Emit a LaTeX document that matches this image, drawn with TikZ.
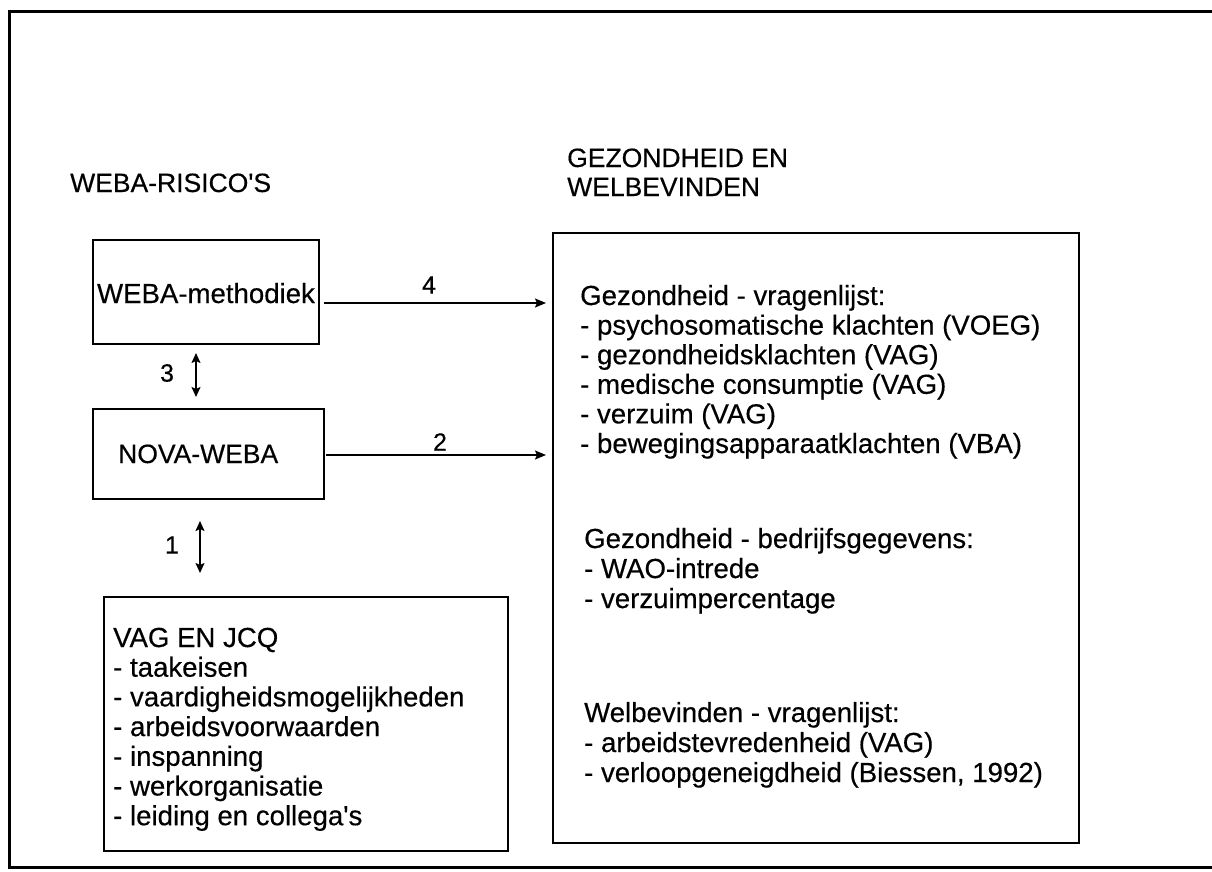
\documentclass[tikz,border=0pt]{standalone}
\usepackage{fontspec}
\setmainfont{Liberation Sans}[FakeBold=0.4]
\usetikzlibrary{arrows.meta}
\begin{document}
\begin{tikzpicture}[x=1pt,y=-1pt,
  box/.style={draw, line width=2pt, rectangle, inner sep=0pt, anchor=north west},
  txt/.style={anchor=base west, inner sep=0pt, font=\fontsize{27.6}{30}\selectfont},
  head/.style={anchor=base west, inner sep=0pt, font=\fontsize{26.5}{30}\selectfont},
  lbl/.style={inner sep=0pt, font=\fontsize{25}{28}\selectfont},
  arr/.style={line width=1.6pt, -{Stealth[length=11pt,width=9pt,inset=2pt]}},
  darr/.style={line width=1.6pt, {Stealth[length=10pt,width=9pt,inset=2pt]}-{Stealth[length=10pt,width=9pt,inset=2pt]}}
]
\useasboundingbox (0,0) rectangle (1212,872);
% outer frame
\draw[line width=3pt] (1214,12) -| (9,867) -- (1214,867);

% headings
\node[head] (h1) at (70,192) {WEBA-RISICO\textquotesingle S};
\node[head] (h2) at (567,167) {GEZONDHEID EN};
\node[head] (h3) at (567,196) {WELBEVINDEN};

% boxes
\node[box, minimum width=226pt, minimum height=104pt] (web) at (92,239) {};
\node[txt, anchor=base] (webt) at (206,303) {WEBA-methodiek};
\node[box, minimum width=231pt, minimum height=90pt] (nova) at (92,408) {};
\node[head] (novat) at (118,463) {NOVA-WEBA};
\node[box, minimum width=404pt, minimum height=254pt] (vag) at (103,596) {};
\node[box, minimum width=526pt, minimum height=610pt] (res) at (552,232) {};

% VAG text
\foreach \t [count=\i from 0] in {VAG EN JCQ, - taakeisen, - vaardigheidsmogelijkheden, - arbeidsvoorwaarden, - inspanning, - werkorganisatie, - leiding en collega\textquotesingle s}
  \node[txt] (v\i) at (113,647+29.7*\i) {\t};

% result text
\foreach \t [count=\i from 0] in {Gezondheid - vragenlijst:, - psychosomatische klachten (VOEG), - gezondheidsklachten (VAG), - medische consumptie (VAG), - verzuim (VAG), - bewegingsapparaatklachten (VBA)}
  \node[txt] (ra\i) at (580,305+29.6*\i) {\t};
\foreach \t [count=\i from 0] in {Gezondheid - bedrijfsgegevens:, - WAO-intrede, - verzuimpercentage}
  \node[txt] (rb\i) at (584,548+30*\i) {\t};
\foreach \t [count=\i from 0] in {Welbevinden - vragenlijst:, - arbeidstevredenheid (VAG), {- verloopgeneigdheid (Biessen, 1992)}}
  \node[txt] (rc\i) at (584,722+30*\i) {\t};

% connectors
\coordinate (y4) at (0,303);
\coordinate (y2) at (0,455);
\coordinate (x3) at (196,0);
\coordinate (x1) at (200,0);
\draw[arr] ([xshift=4pt]web.east |- y4) -- ([xshift=-6pt]res.west |- y4);
\draw[arr] ([xshift=1pt]nova.east |- y2) -- ([xshift=-6pt]res.west |- y2);
\draw[darr] ([yshift=-8pt]web.south -| x3) -- ([yshift=11pt]nova.north -| x3);
\draw[darr] ([yshift=-21pt]nova.south -| x1) -- ([yshift=23pt]vag.north -| x1);

% labels
\node[lbl] (l4) at (429,285) {4};
\node[lbl] (l2) at (440,442) {2};
\node[lbl] (l3) at (167,373) {3};
\node[lbl] (l1) at (172,545) {1};
\end{tikzpicture}
\end{document}
